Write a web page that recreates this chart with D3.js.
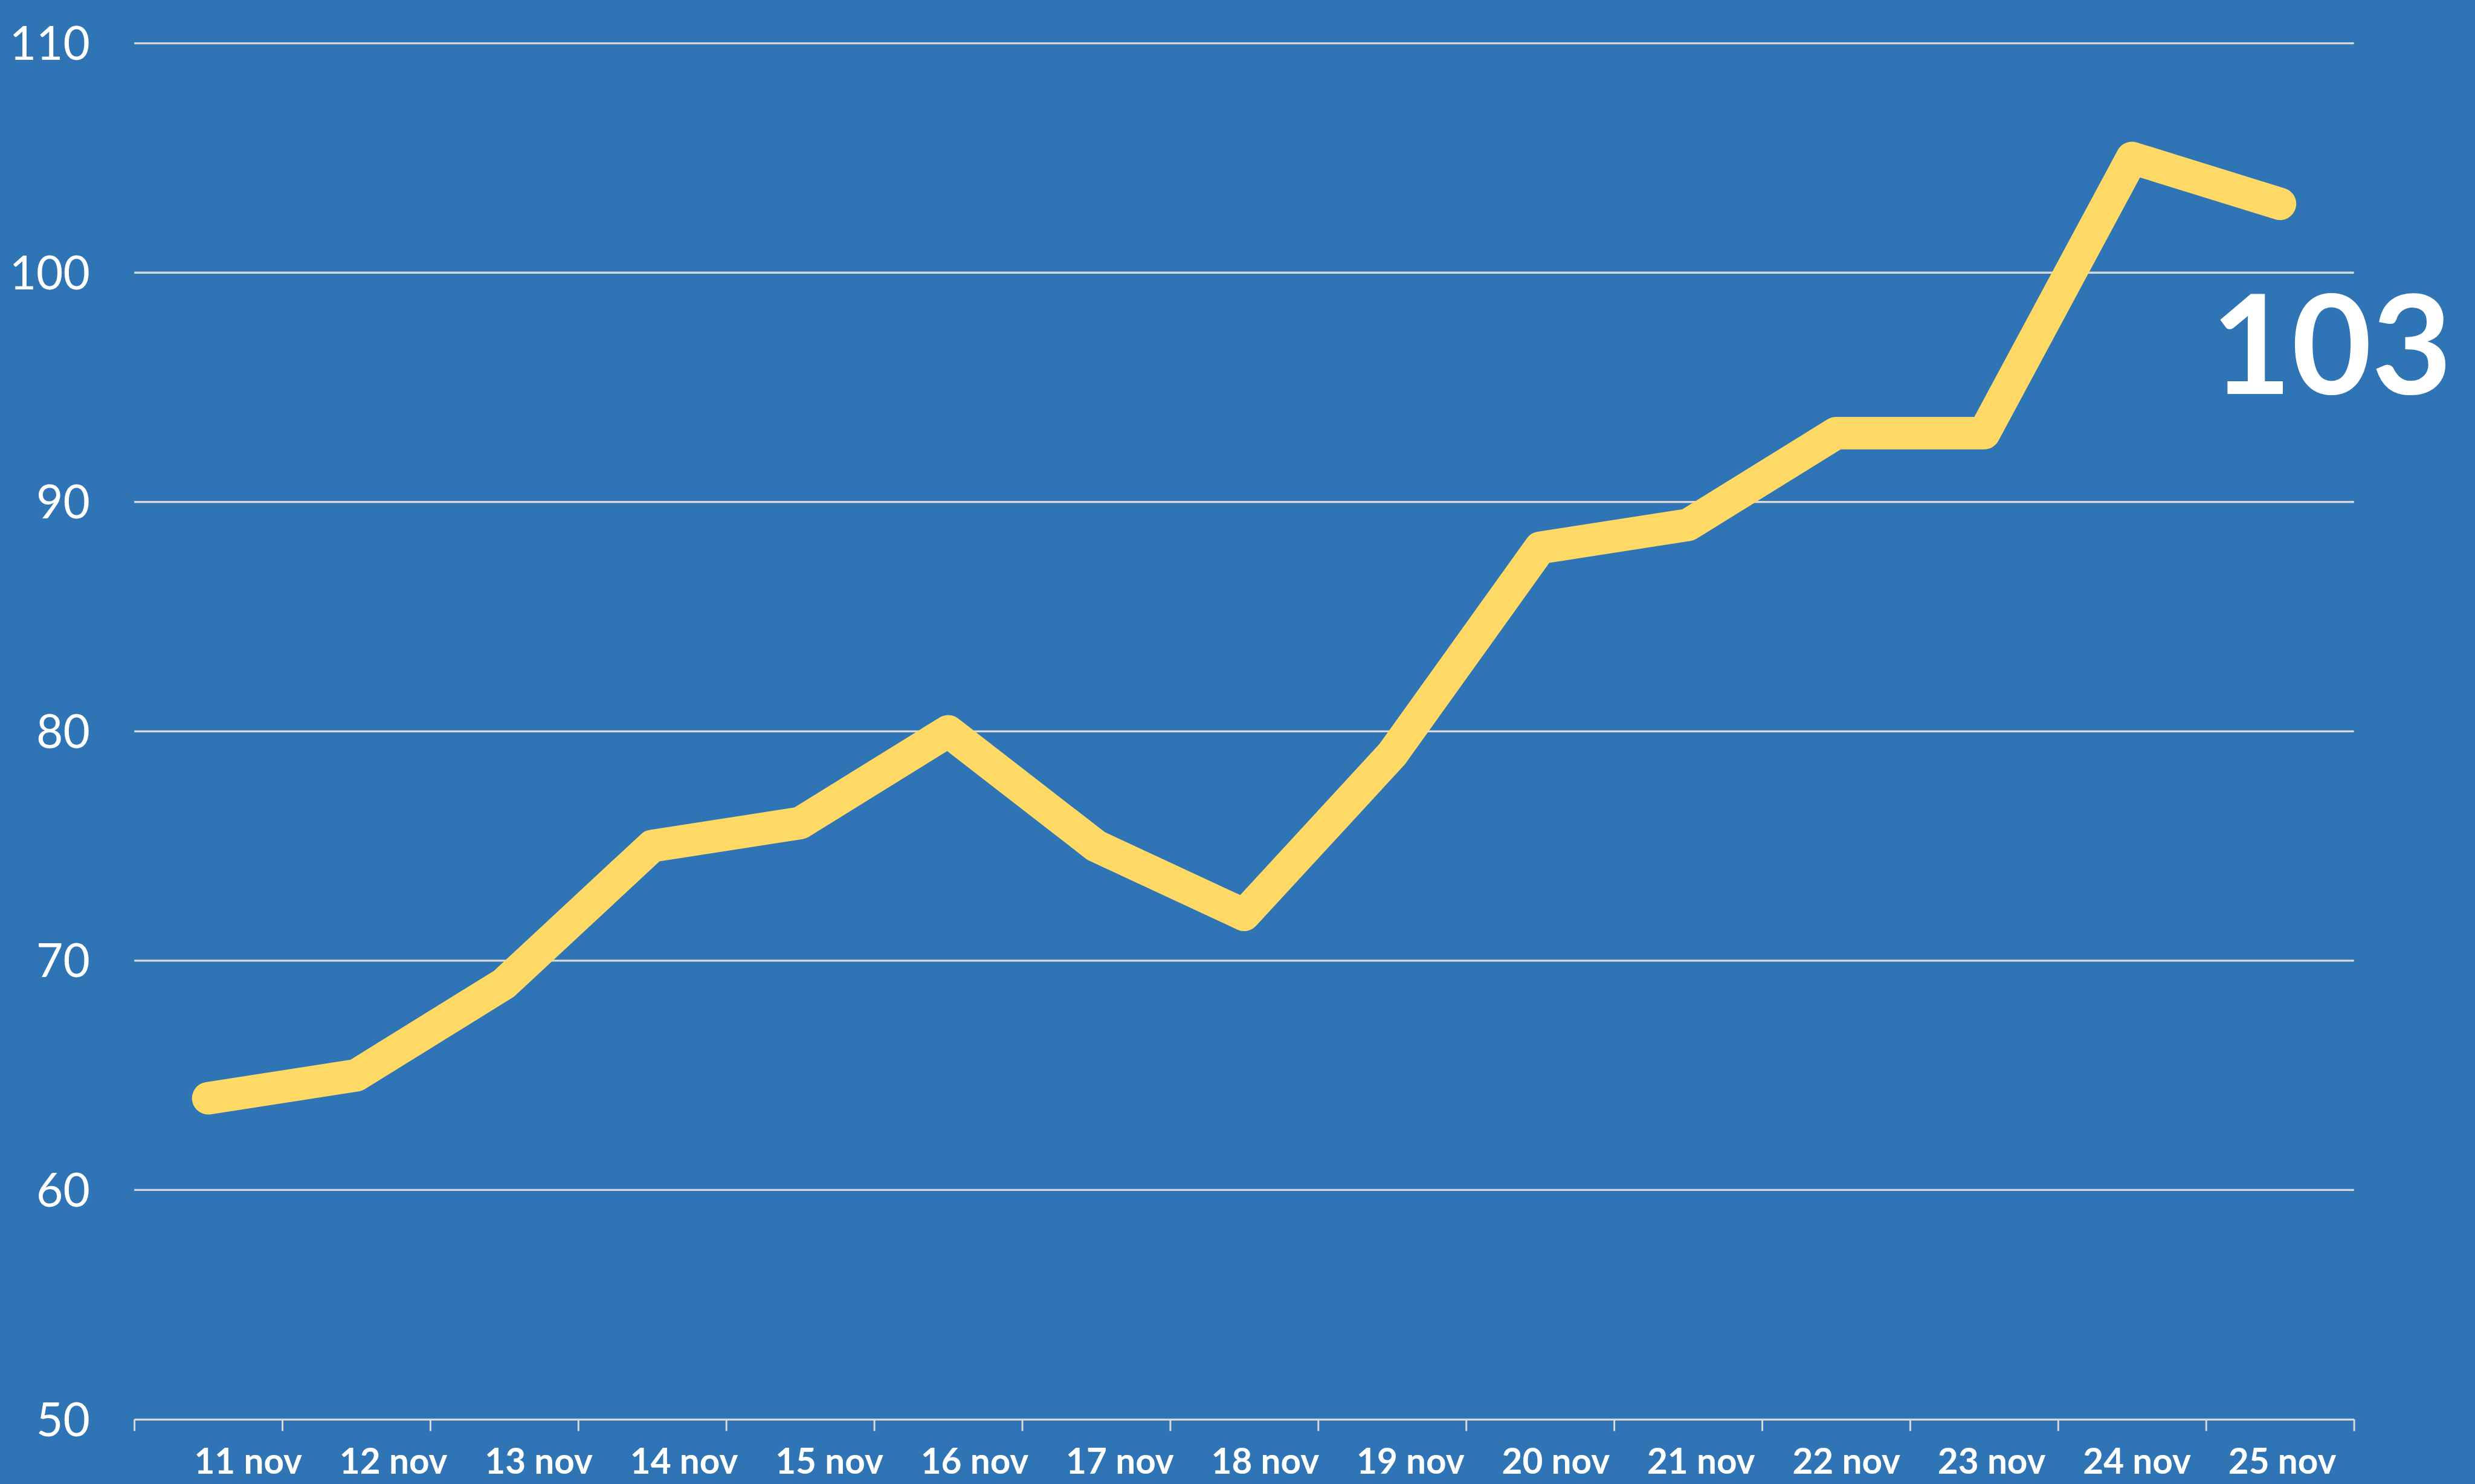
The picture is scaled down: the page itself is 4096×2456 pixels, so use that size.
<!DOCTYPE html>
<html>
<head>
<meta charset="utf-8">
<script src="https://cdn.jsdelivr.net/npm/d3@7"></script>
<style>
  html, body { margin: 0; padding: 0; background: #2F75B5; overflow: hidden; }
  svg { display: block; }
</style>
</head>
<body>
<div id="chart"></div>
<script>
// data
var days = ["11 nov","12 nov","13 nov","14 nov","15 nov","16 nov","17 nov","18 nov",
            "19 nov","20 nov","21 nov","22 nov","23 nov","24 nov","25 nov"];
var values = [64, 65, 69, 75, 76, 80, 75, 72, 79, 88, 89, 93, 93, 105, 103];
var yTicks = [50, 60, 70, 80, 90, 100, 110];

gen_vis();

function gen_vis()
{
	// drawn in the reference's own pixel size, the viewBox scales it to the window
	var W = 4867, H = 2918;
	var mLeft = 264, mRight = 4629, mTop = 85, mBottom = 2791;

	var svg = d3.select("#chart")
		.append("svg")
		.attr("width", 4096)
		.attr("height", 2456)
		.attr("viewBox", "0 0 " + W + " " + H);

	svg.append("rect")
		.attr("width", W)
		.attr("height", H)
		.attr("fill", "#2F75B5");

	var x = d3.scaleBand().domain(days).range([mLeft, mRight]).padding(0);
	var xEdges = d3.scaleLinear().domain([0, days.length]).range([mLeft, mRight]);
	var xLabels = d3.scalePoint().domain(days).range([488, 4488]); // labels sit a bit off the band centres
	var y = d3.scaleLinear().domain([50, 110]).range([mBottom, mTop]);

	// gridlines
	svg.append("g")
		.selectAll("line")
		.data(yTicks.slice(1))
		.enter()
		.append("line")
		.attr("x1", mLeft)
		.attr("x2", mRight)
		.attr("y1", function(d){ return y(d); })
		.attr("y2", function(d){ return y(d); })
		.attr("stroke", "#D9D9D9")
		.attr("stroke-width", 4);

	// y labels
	svg.append("g")
		.selectAll("text")
		.data(yTicks)
		.enter()
		.append("text")
		.attr("x", 177)
		.attr("y", function(d){ return y(d); })
		.attr("dy", "0.36em")
		.attr("text-anchor", "end")
		.attr("fill", "#ffffff")
		.style("font-family", "Lato, sans-serif")
		.style("font-size", "91px")
		.text(function(d){ return d; });

	// x axis line + ticks on the band edges
	var xAxis = svg.append("g")
		.attr("transform", "translate(0," + mBottom + ")")
		.call(d3.axisBottom(xEdges)
			.tickValues(d3.range(days.length + 1))
			.tickSize(23)
			.tickSizeOuter(0)
			.tickFormat(""));

	xAxis.select(".domain").attr("stroke", "#D9D9D9").attr("stroke-width", 4);
	xAxis.selectAll(".tick line").attr("stroke", "#D9D9D9").attr("stroke-width", 3.5);

	// x labels
	svg.append("g")
		.selectAll("text")
		.data(days)
		.enter()
		.append("text")
		.attr("x", function(d){ return xLabels(d); })
		.attr("y", 2898)
		.attr("text-anchor", "middle")
		.attr("fill", "#ffffff")
		.style("font-family", "Lato, sans-serif")
		.style("font-weight", "bold")
		.style("font-size", "69.5px")
		.text(function(d){ return d; });

	// the line
	var line = d3.line()
		.x(function(d, i){ return x(days[i]) + x.bandwidth() / 2; })
		.y(function(d){ return y(d); });

	svg.append("path")
		.datum(values)
		.attr("d", line)
		.attr("fill", "none")
		.attr("stroke", "#FFD966")
		.attr("stroke-width", 64)
		.attr("stroke-linejoin", "round")
		.attr("stroke-linecap", "round");

	// last value label
	svg.append("text")
		.attr("x", 4585)
		.attr("y", 774)
		.attr("text-anchor", "middle")
		.attr("fill", "#ffffff")
		.style("font-family", "Lato, sans-serif")
		.style("font-weight", "bold")
		.style("font-size", "272px")
		.text(values[values.length - 1]);
}
</script>
</body>
</html>
